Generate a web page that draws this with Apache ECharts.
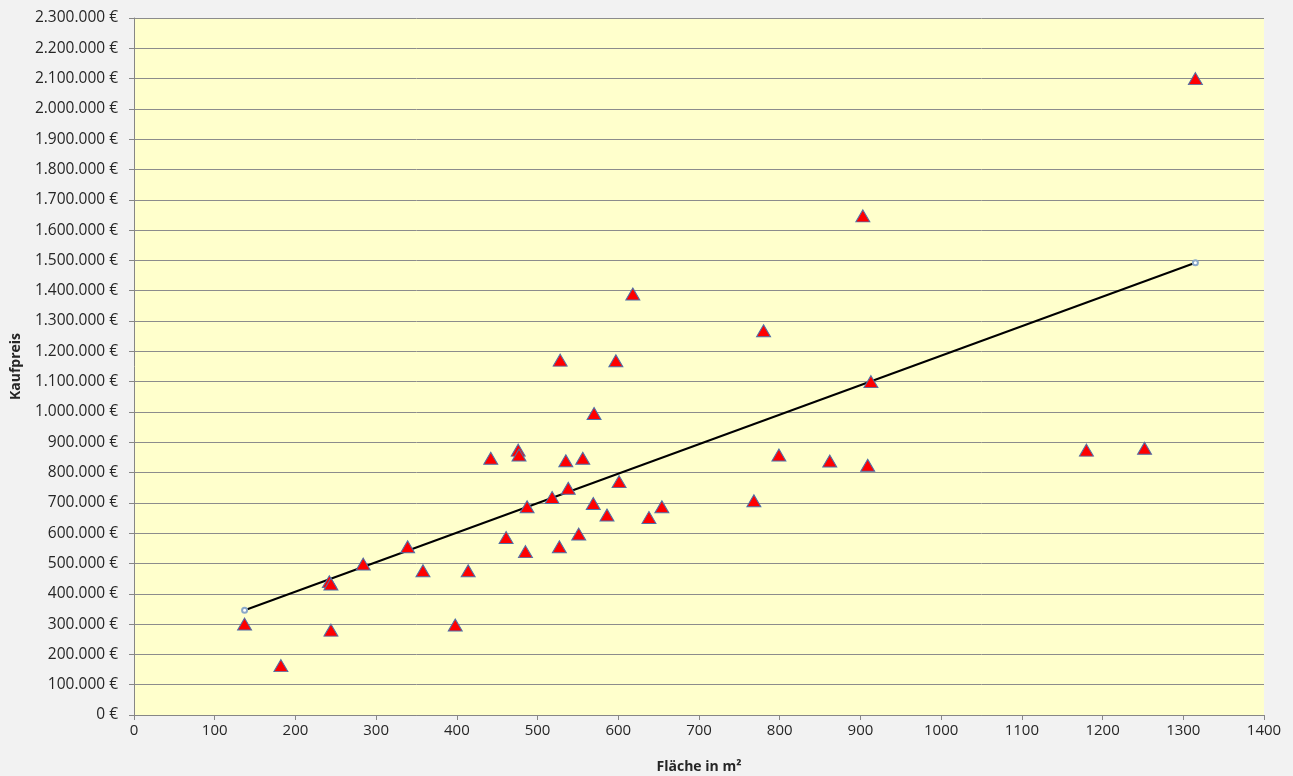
<!DOCTYPE html>
<html>
<head>
<meta charset="utf-8">
<script src="https://cdn.jsdelivr.net/npm/echarts@6/dist/echarts.min.js"></script>
<style>
html,body{margin:0;padding:0;background:#f2f2f2;}
#chart{width:1293px;height:776px;}
</style>
</head>
<body>
<div id="chart"></div>
<script>
// Fläche in m²
var flaeche = [137, 182, 242, 244, 244, 284, 339, 358, 398, 414,
  442, 476, 477, 535, 556, 601, 538, 518, 487, 569,
  586, 654, 638, 461, 551, 485, 527, 528, 597, 570,
  618, 780, 913, 799, 862, 909, 768, 903, 1180, 1252, 1315];
// Kaufpreis in €
var kaufpreis = [300000, 163000, 440000, 432000, 280000, 498000, 555000, 476000, 297000, 476000,
  847000, 874000, 858000, 839000, 847000, 770000, 748000, 718000, 687000, 698000,
  660000, 687000, 652000, 586000, 597000, 539000, 555000, 1171000, 1169000, 995000,
  1389000, 1268000, 1100000, 858000, 838000, 824000, 707000, 1647000, 874000, 880000, 2100000];
// Trendlinie (Endpunkte)
var trendX = [137, 1315];
var trendY = [345500, 1492500];

var points = flaeche.map(function (x, i) { return [x, kaufpreis[i]]; });
var trend = trendX.map(function (x, i) { return [x, trendY[i]]; });

function euro(v) {
  return String(Math.round(v)).replace(/\B(?=(\d{3})+(?!\d))/g, '.') + ' €';
}

var font = 'Open Sans';
var chart = echarts.init(document.getElementById('chart'));
chart.setOption({
  backgroundColor: '#f2f2f2',
  animation: false,
  textStyle: { fontFamily: font },
  grid: { left: 134, right: 29, top: 18, bottom: 61, show: true, backgroundColor: '#ffffcc', borderWidth: 0,
    containLabel: false, outerBoundsMode: 'none' },
  xAxis: {
    type: 'value', min: 0, max: 1400, interval: 100,
    name: 'Fläche in m²', nameLocation: 'middle', nameGap: 45,
    nameTextStyle: { fontFamily: font, fontSize: 14, fontWeight: 'bold', color: '#262626' },
    axisLine: { show: true, lineStyle: { color: '#868686', width: 1 } },
    axisTick: { show: true, length: 5, inside: false, lineStyle: { color: '#868686' } },
    axisLabel: { fontFamily: font, fontSize: 15, color: '#262626', margin: 8, formatter: function (v) { return String(v); } },
    splitLine: { show: false }
  },
  yAxis: {
    type: 'value', min: 0, max: 2300000, interval: 100000,
    name: 'Kaufpreis', nameLocation: 'middle', nameGap: 111, nameRotate: 90,
    nameTextStyle: { fontFamily: font, fontSize: 14, fontWeight: 'bold', color: '#262626' },
    axisLine: { show: true, lineStyle: { color: '#868686', width: 1 } },
    axisTick: { show: true, length: 5, inside: false, lineStyle: { color: '#868686' } },
    axisLabel: { fontFamily: font, fontSize: 15.5, color: '#262626', margin: 16, formatter: euro },
    splitLine: { show: true, lineStyle: { color: '#8c8c8c', width: 1 } }
  },
  series: [
    {
      type: 'line', data: trend, symbol: 'emptyCircle', symbolSize: 5, showSymbol: true,
      lineStyle: { color: '#000000', width: 2 },
      itemStyle: { color: '#8aa8c8', borderColor: '#7f9fbf', borderWidth: 1 },
      z: 3
    },
    {
      type: 'scatter', data: points, symbol: 'triangle', symbolSize: [14, 12],
      itemStyle: { color: '#ff0000', borderColor: '#4f6fa8', borderWidth: 1, opacity: 1 },
      z: 4
    }
  ]
});
</script>
</body>
</html>
